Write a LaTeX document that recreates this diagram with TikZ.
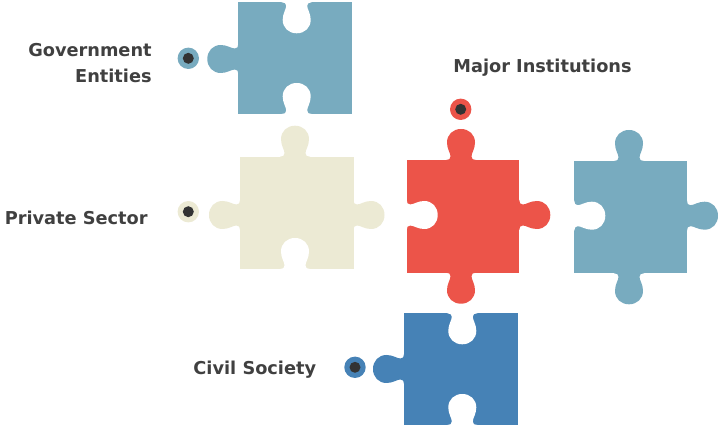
\documentclass[tikz,border=0pt]{standalone}
\usepackage{fontspec}
\setmainfont{DejaVu Sans}
\definecolor{tealpiece}{HTML}{78ABBF}
\definecolor{beigepiece}{HTML}{ECEAD4}
\definecolor{redpiece}{HTML}{EC5449}
\definecolor{bluepiece}{HTML}{4682B6}
\definecolor{labeltext}{HTML}{404040}
\definecolor{dotdark}{HTML}{333333}
\tikzset{
  piecelabel/.style={text=labeltext,font=\bfseries\fontsize{10.1}{14.8}\selectfont,inner sep=0pt,align=right}
}
% One tab or notch: at (x,y), turned by the angle, in the colour
\newcommand{\lobe}[4]{
  \fill [#4,shift={(#1,#2)},rotate=#3] (-15,-1) -- (-15,0)
    .. controls (-12,0) and (-10.5,1) .. (-10.5,3.5)
    .. controls (-10.5,7) and (-14,11) .. (-14,17.5)
    .. controls (-14,25.5) and (-8,31) .. (0,31)
    .. controls (8,31) and (14,25.5) .. (14,17.5)
    .. controls (14,11) and (10.5,7) .. (10.5,3.5)
    .. controls (10.5,1) and (12,0) .. (15,0) -- (15,-1) -- cycle;
}
% The ring and its dark centre
\newcommand{\marker}[3]{
  \fill [#3] (#1,#2) circle (10.7);
  \fill [dotdark] (#1,#2) circle (5.5);
}
\begin{document}
\begin{tikzpicture}[x=0.02cm,y=-0.02cm]
  \useasboundingbox (0,0) rectangle (721,432);

  % Government entities
  \fill [tealpiece] (238.3,2.3) rectangle (352,114);
  \lobe{238.3}{59}{-90}{tealpiece}
  \lobe{296.7}{2.3}{0}{white}
  \lobe{296.7}{114}{180}{white}
  \marker{188.3}{58.3}{tealpiece}

  % Private sector
  \fill [beigepiece] (240,156.7) rectangle (353.5,269);
  \lobe{295}{156.7}{180}{beigepiece}
  \lobe{240}{215}{-90}{beigepiece}
  \lobe{353.5}{215}{90}{beigepiece}
  \lobe{295}{269}{180}{white}
  \marker{188.3}{211.7}{beigepiece}

  % Major institutions
  \fill [redpiece] (406.7,160) rectangle (519.3,272.7);
  \lobe{461}{160}{180}{redpiece}
  \lobe{519.3}{215}{90}{redpiece}
  \lobe{461}{272.7}{0}{redpiece}
  \lobe{406.7}{215}{90}{white}
  \marker{460.7}{109.3}{redpiece}

  % The other piece on the right
  \fill [tealpiece] (574.3,161) rectangle (687,273.3);
  \lobe{629}{161}{180}{tealpiece}
  \lobe{687}{215.7}{90}{tealpiece}
  \lobe{629}{273.3}{0}{tealpiece}
  \lobe{574.3}{215.7}{90}{white}

  % Civil society
  \fill [bluepiece] (404,313.3) rectangle (517.7,425);
  \lobe{404}{369}{-90}{bluepiece}
  \lobe{462.3}{313.3}{0}{white}
  \lobe{462.3}{425}{180}{white}
  \marker{355}{367.3}{bluepiece}

  % Labels
  \node [piecelabel,anchor=east] (government) at (152,63) {Government\\Entities};
  \node [piecelabel,anchor=east] (private) at (148,218) {Private Sector};
  \node [piecelabel] (major) at (542.5,68) {Major Institutions};
  \node [piecelabel,anchor=east] (civil) at (316.5,369.5) {Civil Society};
\end{tikzpicture}
\end{document}
